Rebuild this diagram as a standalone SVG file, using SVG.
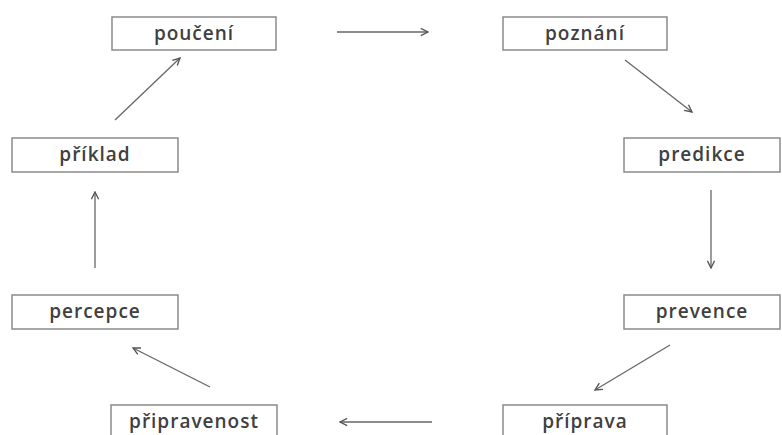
<svg xmlns="http://www.w3.org/2000/svg" width="782" height="435" viewBox="0 0 782 435">
<style>
.box{fill:#fff;stroke:#8a8a8a;stroke-width:1.5}
.lbl{font-family:"Open Sans","Noto Sans",sans-serif;font-size:19px;fill:#404040;text-anchor:middle;font-weight:600;letter-spacing:1px}
.ar{stroke:#666;stroke-width:1.3;fill:none;marker-end:url(#ah)}
</style>
<defs>
<marker id="ah" viewBox="0 0 10 10" refX="9" refY="5" markerWidth="9" markerHeight="9" markerUnits="userSpaceOnUse" orient="auto">
<path d="M1,1 L9,5 L1,9" fill="none" stroke="#555" stroke-width="1.5"/>
</marker>
</defs>
<rect width="782" height="435" fill="#fff"/>
<g id="poučení"><rect class="box" x="112" y="17" width="164" height="33"/><text class="lbl" x="194" y="40">poučení</text></g>
<g id="poznání"><rect class="box" x="503" y="17" width="164" height="33"/><text class="lbl" x="585" y="40">poznání</text></g>
<g id="příklad"><rect class="box" x="12" y="138" width="166" height="34"/><text class="lbl" x="95" y="161">příklad</text></g>
<g id="predikce"><rect class="box" x="624" y="138" width="156" height="34"/><text class="lbl" x="702" y="161">predikce</text></g>
<g id="percepce"><rect class="box" x="12" y="295" width="166" height="34"/><text class="lbl" x="95" y="318">percepce</text></g>
<g id="prevence"><rect class="box" x="624" y="295" width="156" height="34"/><text class="lbl" x="702" y="318">prevence</text></g>
<g id="připravenost"><rect class="box" x="111" y="405" width="166" height="34"/><text class="lbl" x="194" y="428">připravenost</text></g>
<g id="příprava"><rect class="box" x="503" y="405" width="164" height="34"/><text class="lbl" x="585" y="428">příprava</text></g>
<g id="connectors">
<line class="ar" x1="337" y1="32" x2="428" y2="32"/>
<line class="ar" x1="625" y1="60" x2="692" y2="112"/>
<line class="ar" x1="711" y1="190" x2="711" y2="268"/>
<line class="ar" x1="670" y1="345" x2="595" y2="390"/>
<line class="ar" x1="432" y1="422" x2="340" y2="422"/>
<line class="ar" x1="210" y1="387" x2="133" y2="348"/>
<line class="ar" x1="95" y1="268" x2="95" y2="192"/>
<line class="ar" x1="115" y1="120" x2="180" y2="58"/>
</g>
</svg>
